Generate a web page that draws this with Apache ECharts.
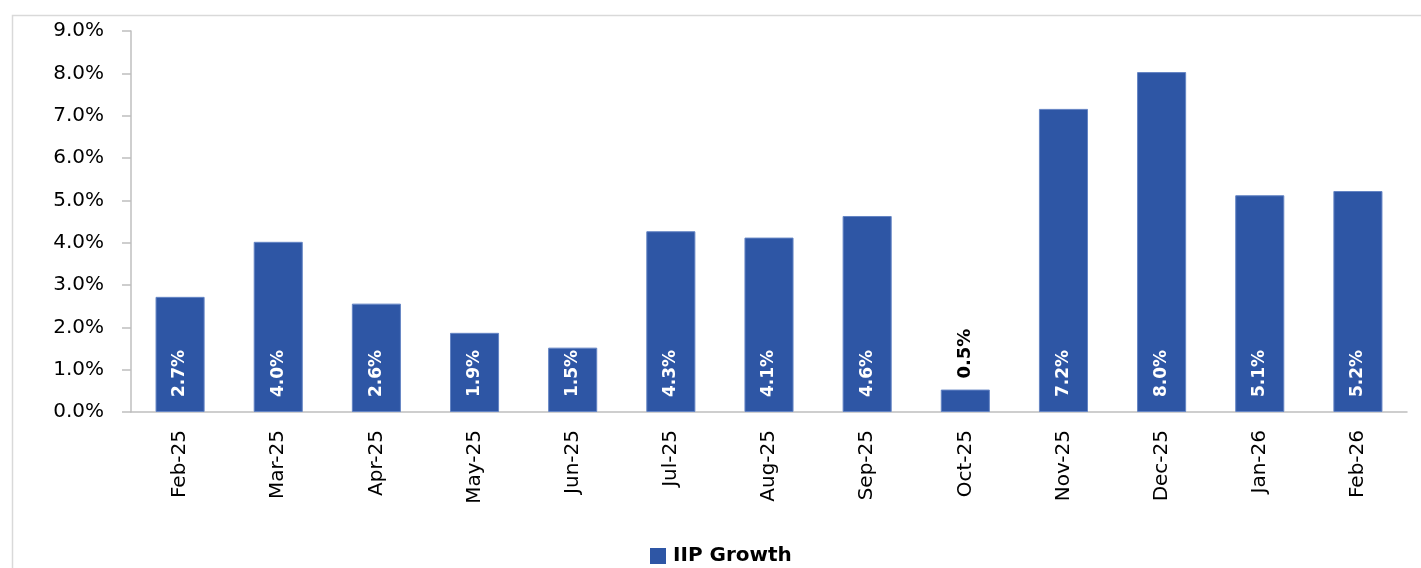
<!DOCTYPE html>
<html>
<head>
<meta charset="utf-8">
<script src="https://cdn.jsdelivr.net/npm/echarts@6/dist/echarts.min.js"></script>
<style>
  html, body { margin: 0; padding: 0; background: #fff; }
  #chart { width: 1421px; height: 568px; }
</style>
</head>
<body>
<div id="chart"></div>
<script>
// months on the x axis
const months = ["Feb-25", "Mar-25", "Apr-25", "May-25", "Jun-25", "Jul-25", "Aug-25",
  "Sep-25", "Oct-25", "Nov-25", "Dec-25", "Jan-26", "Feb-26"];
// IIP growth, %
const iipGrowth = [2.72, 4.02, 2.56, 1.87, 1.52, 4.27, 4.12, 4.63, 0.53, 7.16, 8.03, 5.12, 5.22];
const yTicks = [0, 1, 2, 3, 4, 5, 6, 7, 8, 9];

const chart = echarts.init(document.getElementById("chart"));
const font = "DejaVu Sans";
const barColor = "#2E56A5";

const option = {
  animation: false,
  textStyle: { fontFamily: font },
  graphic: [{
    type: "rect",
    left: 10, top: 13,
    shape: { width: 1440, height: 600 },
    style: { fill: "none", stroke: "#d9d9d9", lineWidth: 1.5 },
    silent: true,
  }],
  grid: { left: 131, right: 14, top: 31, bottom: 156 },
  legend: {
    left: 650, top: 546,
    padding: 0,
    itemWidth: 16, itemHeight: 16,
    itemGap: 6,
    icon: "rect",
    itemStyle: { borderWidth: 0 },
    textStyle: { fontSize: 20, fontWeight: "bold", color: "#000", fontFamily: font, padding: [0, 0, 0, 2] },
    data: ["IIP Growth"],
  },
  xAxis: {
    type: "category",
    data: months,
    axisLine: { lineStyle: { color: "#bfbfbf", width: 1.5 } },
    axisTick: { alignWithLabel: true, length: 6, lineStyle: { color: "#bfbfbf", width: 1.5 } },
    axisLabel: { rotate: 90, margin: 18, fontSize: 20, color: "#000", fontFamily: font },
  },
  yAxis: {
    type: "value",
    min: yTicks[0],
    max: yTicks[yTicks.length - 1],
    interval: 1,
    splitLine: { show: false },
    axisLine: { show: true, lineStyle: { color: "#bfbfbf", width: 1.5 } },
    axisTick: { show: true, length: 9, lineStyle: { color: "#bfbfbf", width: 1.5 } },
    axisLabel: {
      margin: 27, fontSize: 20, color: "#000", fontFamily: font,
      formatter: (v) => v.toFixed(1) + "%",
    },
  },
  series: [{
    name: "IIP Growth",
    type: "bar",
    barWidth: "50%",
    itemStyle: { color: barColor, borderColor: "#6585c4", borderWidth: 1 },
    data: iipGrowth.map((v) => {
      // small bar: label sits above it in black
      if (v < 1) {
        return {
          value: v,
          label: { position: "top", distance: 11, color: "#000", fontSize: 18 },
        };
      }
      return v;
    }),
    label: {
      show: true,
      position: "insideBottom",
      distance: 15,
      rotate: 90,
      align: "left",
      verticalAlign: "middle",
      color: "#fff",
      fontSize: 17,
      fontWeight: "bold",
      fontFamily: font,
      formatter: (p) => p.value.toFixed(1) + "%",
    },
  }],
};
chart.setOption(option);
</script>
</body>
</html>
